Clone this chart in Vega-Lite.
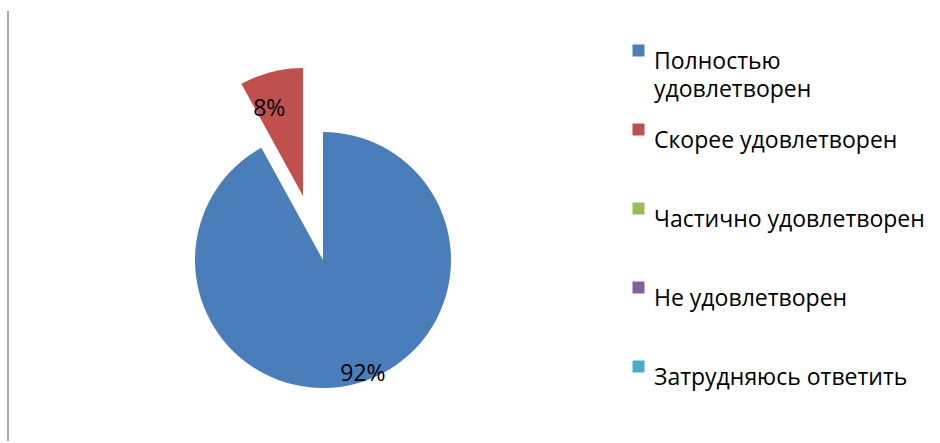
{
  "$schema": "https://vega.github.io/schema/vega-lite/v6.json",
  "width": 610,
  "height": 430,
  "padding": {"left": 7, "top": 10, "right": 0, "bottom": 0},
  "background": "white",
  "config": {
    "view": {"stroke": null},
    "font": "Open Sans"
  },
  "data": {"values": [
    {"cat": "Полностью удовлетворен", "value": 0.92, "order": 1},
    {"cat": "Скорее удовлетворен", "value": 0.08, "order": 2},
    {"cat": "Частично удовлетворен", "value": 0, "order": 3},
    {"cat": "Не удовлетворен", "value": 0, "order": 4},
    {"cat": "Затрудняюсь ответить", "value": 0, "order": 5}
  ]},
  "encoding": {
    "theta": {"field": "value", "type": "quantitative", "stack": true},
    "order": {"field": "order", "type": "quantitative"},
    "color": {
      "field": "cat", "type": "nominal",
      "scale": {
        "domain": ["Полностью удовлетворен", "Скорее удовлетворен", "Частично удовлетворен", "Не удовлетворен", "Затрудняюсь ответить"],
        "range": ["#4A7EBB", "#C0504D", "#9BBB59", "#8064A2", "#4BACC6"]
      },
      "legend": {
        "title": null,
        "orient": "none",
        "legendX": 619,
        "legendY": 28,
        "padding": 0,
        "gridAlign": "all",
        "symbolType": "square",
        "symbolSize": 144,
        "symbolStrokeWidth": 0,
        "labelFont": "Open Sans",
        "labelFontSize": 23,
        "labelColor": "#000000",
        "labelBaseline": "top",
        "labelLimit": 400,
        "labelOffset": 4,
        "rowPadding": 16,
        "labelExpr": "datum.label === 'Полностью удовлетворен' ? ['Полностью', 'удовлетворен'] : datum.label",
        "encoding": {"labels": {"lineHeight": {"value": 28}}}
      }
    }
  },
  "layer": [
    {
      "mark": {"type": "arc", "radius": 128, "xOffset": 10, "yOffset": 34},
      "encoding": {
        "opacity": {"condition": {"test": "datum.cat === 'Полностью удовлетворен'", "value": 1}, "value": 0}
      }
    },
    {
      "mark": {"type": "arc", "radius": 128, "xOffset": -10, "yOffset": -30},
      "encoding": {
        "opacity": {"condition": {"test": "datum.cat === 'Скорее удовлетворен'", "value": 1}, "value": 0}
      }
    },
    {
      "mark": {"type": "text", "radius": 121, "xOffset": 10, "yOffset": 34, "thetaOffset": -0.085, "fontSize": 23, "font": "Open Sans", "color": "#000000"},
      "encoding": {
        "text": {"field": "value", "type": "quantitative", "format": ".0%"},
        "color": {"value": "#000000"},
        "opacity": {"condition": {"test": "datum.cat === 'Полностью удовлетворен'", "value": 1}, "value": 0}
      }
    },
    {
      "mark": {"type": "text", "radius": 93, "xOffset": -10, "yOffset": -30, "thetaOffset": -0.12, "fontSize": 23, "font": "Open Sans", "color": "#000000"},
      "encoding": {
        "text": {"field": "value", "type": "quantitative", "format": ".0%"},
        "color": {"value": "#000000"},
        "opacity": {"condition": {"test": "datum.cat === 'Скорее удовлетворен'", "value": 1}, "value": 0}
      }
    },
    {
      "data": {"values": [{"edge": 0}]},
      "mark": {"type": "rule", "color": "#8c8c8c", "strokeWidth": 1.5},
      "encoding": {
        "x": {"field": "edge", "type": "quantitative", "scale": {"domain": [0, 1]}, "axis": null},
        "theta": null,
        "order": null,
        "color": null
      }
    }
  ]
}
